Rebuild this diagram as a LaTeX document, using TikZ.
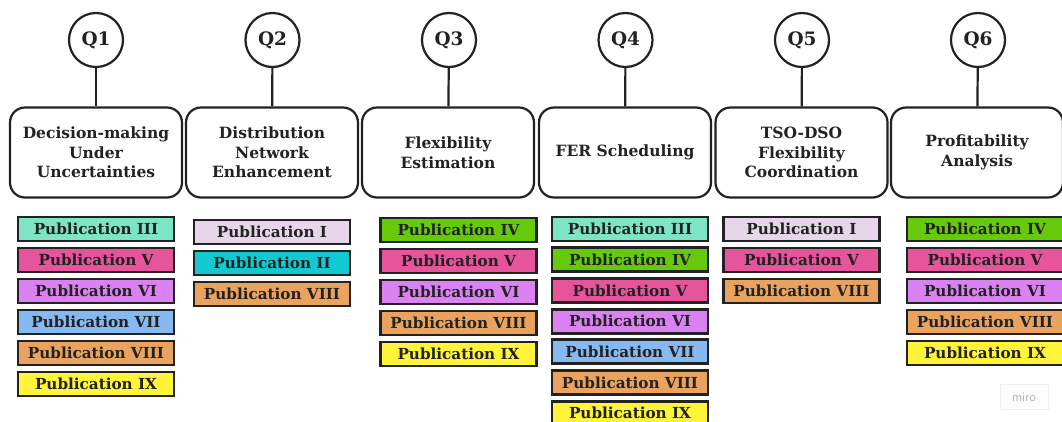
\documentclass[tikz,border=0pt]{standalone}
\usepackage{fontspec}
\setmainfont{DejaVu Serif}
\definecolor{ink}{HTML}{222222}
\definecolor{cIII}{HTML}{7DE5C3}
\definecolor{cIV}{HTML}{66C90A}
\definecolor{cV}{HTML}{E6549C}
\definecolor{cVI}{HTML}{DA82F2}
\definecolor{cVII}{HTML}{86B8F2}
\definecolor{cVIII}{HTML}{E9A35E}
\definecolor{cIX}{HTML}{FFF43A}
\definecolor{cI}{HTML}{E7D6EA}
\definecolor{cII}{HTML}{12C9D2}
\begin{document}
\begin{tikzpicture}[x=1pt,y=-1pt,
  qnode/.style={circle,draw=ink,line width=2.2pt,fill=white,minimum size=54pt,inner sep=0pt,
    font=\fontsize{18.5}{20}\selectfont\bfseries,text=ink},
  topic/.style={draw=ink,line width=2.2pt,rounded corners=15pt,fill=white,minimum width=172pt,minimum height=90pt,
    align=center,inner sep=0pt,font=\fontsize{15.5}{19.5}\selectfont\bfseries,text=ink},
  link/.style={draw=ink,line width=2.2pt},
  pub/.style={draw=ink,line width=2.8pt,minimum width=156pt,minimum height=24pt,inner sep=0pt,
    font=\fontsize{15.2}{17}\selectfont\bfseries,text=ink},
]
\clip (0,0) rectangle (1062,421);
\fill[white] (0,0) rectangle (1062,421);
% questions
\foreach \i/\x in {1/96,2/272.5,3/449,4/625.5,5/802,6/978}{
  \node[qnode] (q\i) at (\x,40) {Q\i};
}
\node[topic] (b1) at (96,152.5) {Decision-making\\Under\\Uncertainties};
\node[topic] (b2) at (272,152.5) {Distribution\\Network\\Enhancement};
\node[topic] (b3) at (448,152.5) {Flexibility\\Estimation};
\node[topic] (b4) at (625,152.5) {FER Scheduling};
\node[topic] (b5) at (801.5,152.5) {TSO-DSO\\Flexibility\\Coordination};
\node[topic] (b6) at (977,152.5) {Profitability\\Analysis};
\foreach \i in {1,...,6}{ \draw[link] (q\i) -- (b\i); }
% publications
\foreach \n/\r/\c [count=\k from 0] in {a/III/cIII,b/V/cV,c/VI/cVI,d/VII/cVII,e/VIII/cVIII,f/IX/cIX}{
  \node[pub,fill=\c] (p1\n) at (96,229+31*\k) {Publication \r};
}
\foreach \n/\r/\c [count=\k from 0] in {a/I/cI,b/II/cII,c/VIII/cVIII}{
  \node[pub,fill=\c] (p2\n) at (272,232+31*\k) {Publication \r};
}
\foreach \n/\r/\c [count=\k from 0] in {a/IV/cIV,b/V/cV,c/VI/cVI,d/VIII/cVIII,e/IX/cIX}{
  \node[pub,fill=\c] (p3\n) at (458.5,230+31*\k) {Publication \r};
}
\foreach \n/\r/\c [count=\k from 0] in {a/III/cIII,b/IV/cIV,c/V/cV,d/VI/cVI,e/VII/cVII,f/VIII/cVIII,g/IX/cIX}{
  \node[pub,fill=\c] (p4\n) at (630,229+30.7*\k) {Publication \r};
}
\foreach \n/\r/\c [count=\k from 0] in {a/I/cI,b/V/cV,c/VIII/cVIII}{
  \node[pub,fill=\c] (p5\n) at (801.5,229+31*\k) {Publication \r};
}
\foreach \n/\r/\c [count=\k from 0] in {a/IV/cIV,b/V/cV,c/VI/cVI,d/VIII/cVIII,e/IX/cIX}{
  \node[pub,fill=\c] (p6\n) at (985,229+31*\k) {Publication \r};
}
\node[draw=black!6,fill=black!1,text=black!30,minimum width=48pt,minimum height=25pt,inner sep=0pt,
  font=\fontsize{13}{15}\selectfont\sffamily] (miro) at (1024,397) {miro};
\end{tikzpicture}
\end{document}
